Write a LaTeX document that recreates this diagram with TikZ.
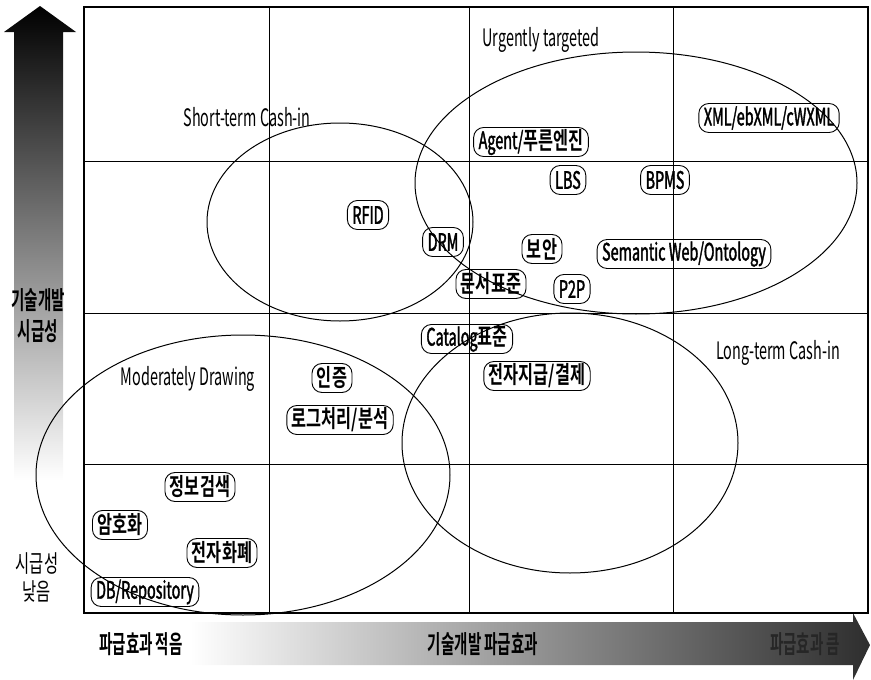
\documentclass[tikz,border=0pt]{standalone}
\usepackage{fontspec}
\setmainfont{Noto Sans CJK KR}[FakeStretch=0.6]
\newfontfamily\latm{Noto Sans CJK KR}[FakeStretch=0.6, FakeBold=1.5]
\newfontfamily\krb{Noto Sans CJK KR Bold}[FakeStretch=0.68]
\newfontfamily\krn{Noto Sans CJK KR Bold}[FakeStretch=0.58]
\newfontfamily\krr{Noto Sans CJK KR}[FakeStretch=0.64]
\begin{document}
\begin{tikzpicture}[x=1pt,y=-1pt,
  pill/.style={draw, line width=0.9pt, rounded corners=10pt, minimum height=29pt,
    inner xsep=5pt, inner ysep=0pt, font=\latm\fontsize{24}{25}\selectfont},
  lbl/.style={font=\fontsize{24}{25}\selectfont, inner sep=0pt},
  axl/.style={font=\krn\fontsize{25}{31}\selectfont, inner sep=0pt, align=center},
  axr/.style={font=\krr\fontsize{24}{28}\selectfont, inner sep=0pt, align=center},
  gridline/.style={line width=1pt},
  oval/.style={line width=1pt}]
\useasboundingbox (0,0) rectangle (871,680);
% vertical arrow
\shade[top color=black, bottom color=white, middle color=black!50]
  (14,480) -- (14,32) -- (4,32) -- (40,6) -- (76,32) -- (63,32) -- (63,480) -- cycle;
% horizontal arrow
\shade[left color=white, right color=black!82, middle color=black!42]
  (190,622) -- (853,622) -- (853,613) -- (870,645) -- (853,680) -- (853,665) -- (190,665) -- cycle;
% grid
\draw[gridline] (269,7) -- (269,613);
\draw[gridline] (469,7) -- (469,613);
\draw[gridline] (673,7) -- (673,613);
\draw[gridline] (84,161) -- (868,161);
\draw[gridline] (84,313) -- (868,313);
\draw[gridline] (84,464) -- (868,464);
\draw[line width=1.3pt] (84,7) rectangle (868,613);
% ellipses
\draw[oval] (340,222) ellipse [x radius=133pt, y radius=99pt];
\draw[oval] (636,183) ellipse [x radius=221pt, y radius=131pt];
\draw[oval] (243,475) ellipse [x radius=207pt, y radius=140pt];
\draw[oval] (570,443) ellipse [x radius=168pt, y radius=130pt];
% region labels
\node[lbl] (ut) at (541,40) {Urgently targeted};
\node[lbl] (st) at (247,117) {Short-term Cash-in};
\node[lbl] (md) at (188,379) {Moderately Drawing};
\node[lbl] (lt) at (778,353) {Long-term Cash-in};
% items
\node[pill] (rfid) at (368,215) {RFID};
\node[pill] (drm) at (443,242) {DRM};
\node[pill] (agent) at (531,142) {Agent/{\krb 푸른엔진}};
\node[pill] (xml) at (769,118) {XML/ebXML/cWXML};
\node[pill] (lbs) at (568,180) {LBS};
\node[pill] (bpms) at (665,180) {BPMS};
\node[pill] (boan) at (542,249) {\krb 보안};
\node[pill] (sem) at (684,254) {Semantic Web/Ontology};
\node[pill] (doc) at (491,284) {\krb 문서표준};
\node[pill] (p2p) at (572,289) {P2P};
\node[pill] (cat) at (467,339) {Catalog{\krb 표준}};
\node[pill] (pay) at (537,376) {\krb 전자지급/결제};
\node[pill] (auth) at (332,378) {\krb 인증};
\node[pill] (log) at (340,420) {\krb 로그처리/분석};
\node[pill] (search) at (200,487) {\krb 정보검색};
\node[pill] (enc) at (120,525) {\krb 암호화};
\node[pill] (money) at (222,553) {\krb 전자화폐};
\node[pill] (db) at (145,592) {DB/Repository};
% axis labels
\node[axl] (vt) at (38,316) {기술개발\\시급성};
\node[axr] (vl) at (37,577) {시급성\\낮음};
\node[axl] (hl) at (141,644) {파급효과 적음};
\node[axl] (hm) at (483,644) {기술개발 파급효과};
\node[axl, text=black!85] (hr) at (805,644) {파급효과 큼};
\end{tikzpicture}
\end{document}
